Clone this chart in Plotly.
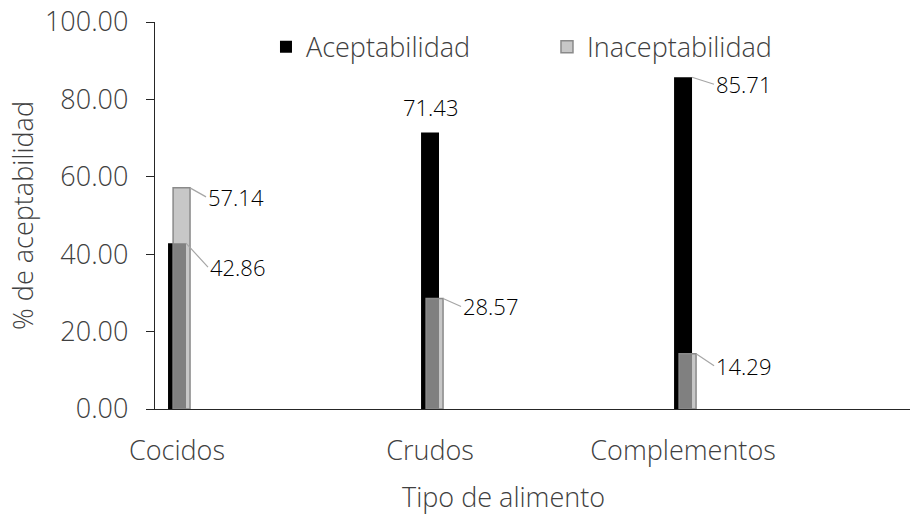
import plotly.graph_objects as go

categories = ["Cocidos", "Crudos", "Complementos"]
acept = [42.86, 71.43, 85.71]
inacept = [57.14, 28.57, 14.29]
y_ticks = [0, 20, 40, 60, 80, 100]

FONT = "Open Sans"
LIGHT = 300
FS = 27
xs = list(range(len(categories)))

# bar geometry (data units)
w_black = 0.071
off_black = -w_black / 2
w_gray = 0.067
off_gray = off_black + 0.02

fig = go.Figure()
fig.add_trace(go.Bar(
    x=xs, y=acept, name="Aceptabilidad",
    width=w_black, offset=off_black,
    marker=dict(color="#000000", line=dict(width=0)),
))
fig.add_trace(go.Bar(
    x=xs, y=inacept, name="Inaceptabilidad",
    width=w_gray, offset=off_gray,
    marker=dict(color="rgba(178,178,178,0.72)", line=dict(color="#8a8a8a", width=1.5)),
))

# data label placement styles per point: (mode, ax, ay)
label_style_acept = [("arrow", 22, 24), ("top", 0, 0), ("arrow", 22, 7)]
label_style_inacept = [("arrow", 16, 9), ("arrow", 18, 8), ("arrow", 18, 12)]

anns = []
def add_labels(vals, off, w, styles):
    for i, v in enumerate(vals):
        mode, ax, ay = styles[i]
        if mode == "top":
            anns.append(dict(x=i + off + w / 2, y=v, xref="x", yref="y",
                             text=f"{v:.2f}", showarrow=False, yanchor="bottom",
                             xanchor="center", yshift=9,
                             font=dict(family=FONT, size=22, color="#000000")))
        else:
            anns.append(dict(x=i + off + w, y=v, xref="x", yref="y",
                             text=f"{v:.2f}", showarrow=True, arrowhead=0,
                             arrowwidth=1.2, arrowcolor="#a6a6a6",
                             ax=ax, ay=ay, xanchor="left", yanchor="middle",
                             font=dict(family=FONT, size=22, color="#000000")))

add_labels(acept, off_black, w_black, label_style_acept)
add_labels(inacept, off_gray, w_gray, label_style_inacept)

anns.append(dict(x=0.461, y=-0.227, xref="paper", yref="paper",
                 text="Tipo de alimento", showarrow=False,
                 xanchor="center", yanchor="middle",
                 font=dict(family=FONT, size=FS, color="#404040", weight=LIGHT)))

fig.update_layout(
    width=913, height=515,
    margin=dict(l=155, r=3, t=22, b=106, autoexpand=False),
    paper_bgcolor="white", plot_bgcolor="white",
    barmode="overlay",
    font=dict(family=FONT, size=FS, color="#404040", weight=LIGHT),
    showlegend=True,
    legend=dict(orientation="h", x=0.147, xanchor="left", y=0.935, yanchor="middle",
                entrywidth=236, entrywidthmode="pixels",
                font=dict(family=FONT, size=FS, color="#404040", weight=LIGHT),
                bgcolor="rgba(0,0,0,0)"),
    annotations=anns,
    xaxis=dict(
        range=[-0.087, 2.897],
        tickvals=xs, ticktext=categories,
        showline=True, linecolor="#262626", linewidth=1.3,
        ticks="", showgrid=False, zeroline=False,
        ticklabelstandoff=17,
        tickfont=dict(family=FONT, size=FS, color="#404040", weight=LIGHT),
    ),
    yaxis=dict(
        range=[0, 100], tickvals=y_ticks, tickformat=".2f",
        showline=True, linecolor="#262626", linewidth=1.3,
        ticks="outside", ticklen=8, tickcolor="#262626", tickwidth=1.3,
        showgrid=False, zeroline=False,
        ticklabelstandoff=12, ticklabeloverflow="allow",
        tickfont=dict(family=FONT, size=FS, color="#404040", weight=LIGHT),
        title=dict(text="% de aceptabilidad", standoff=3,
                   font=dict(family=FONT, size=FS, color="#404040", weight=LIGHT)),
    ),
)

fig.write_html("out.html", config={"displayModeBar": False},
               post_script="document.body.style.margin='0';")
